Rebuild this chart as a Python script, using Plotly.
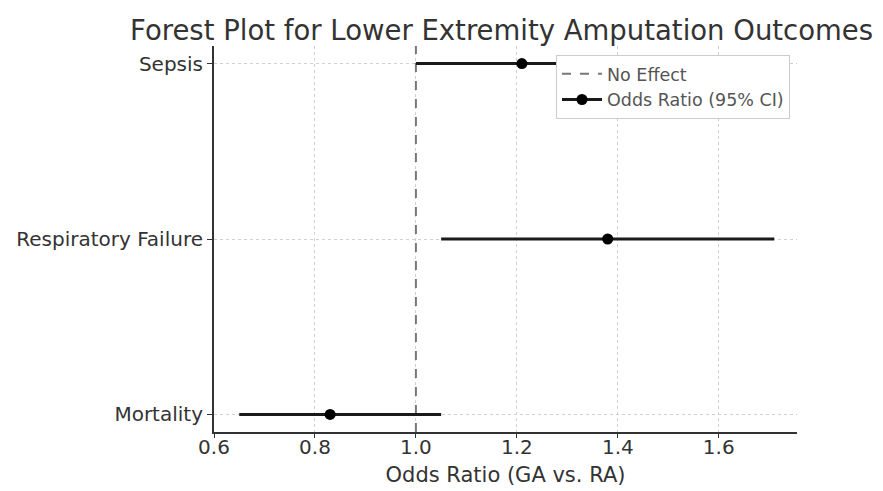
import plotly.graph_objects as go

outcomes = ["Mortality", "Respiratory Failure", "Sepsis"]
odds_ratio = [0.83, 1.38, 1.21]
ci_low = [0.65, 1.05, 1.00]
ci_high = [1.05, 1.71, 1.46]
no_effect = 1.0
x_ticks = [0.6, 0.8, 1.0, 1.2, 1.4, 1.6]

ypos = list(range(len(outcomes)))
y_range = [-0.1, len(outcomes) - 1 + 0.1]

fig = go.Figure()

fig.add_trace(go.Scatter(
    x=[no_effect, no_effect], y=y_range, mode="lines",
    line=dict(color="#777777", width=2, dash="dash"),
    name="No Effect", hoverinfo="skip"))

fig.add_trace(go.Scatter(
    x=odds_ratio, y=ypos, mode="markers",
    marker=dict(color="black", size=11),
    error_x=dict(type="data", symmetric=False,
                 array=[h - o for h, o in zip(ci_high, odds_ratio)],
                 arrayminus=[o - l for o, l in zip(odds_ratio, ci_low)],
                 color="#1a1a1a", thickness=3, width=0),
    name="Odds Ratio (95% CI)", showlegend=False))

fig.add_trace(go.Scatter(
    x=[None], y=[None], mode="lines+markers",
    marker=dict(color="black", size=11),
    line=dict(color="#1a1a1a", width=3),
    name="Odds Ratio (95% CI)"))

fig.update_layout(
    width=883, height=491,
    margin=dict(l=206, r=94, t=38, b=67),
    paper_bgcolor="white", plot_bgcolor="white",
    font=dict(family="DejaVu Sans", color="#333333", size=20),
    title=dict(text="Forest Plot for Lower Extremity Amputation Outcomes",
               x=0.559, xanchor="center", y=0.955, yanchor="middle",
               font=dict(size=27.5, color="#333333")),
    legend=dict(x=0.988, y=0.977, xanchor="right", yanchor="top",
                bgcolor="white", bordercolor="#cccccc", itemwidth=40,
                borderwidth=1, font=dict(size=17.5, color="#555555")),
    showlegend=True,
)

fig.update_xaxes(
    range=[0.6, 1.755], tickvals=x_ticks,
    ticktext=[f"{v:.1f}" for v in x_ticks],
    title=dict(text="Odds Ratio (GA vs. RA)", standoff=9, font=dict(size=21)),
    showline=True, linecolor="#333333", linewidth=2, mirror=False,
    ticks="outside", ticklen=4, tickcolor="#333333", tickwidth=1,
    ticklabelstandoff=-8, automargin=False,
    showgrid=True, gridcolor="#d0d0d0", griddash="dot", gridwidth=1,
    zeroline=False)

fig.update_yaxes(
    range=y_range, tickvals=ypos, ticktext=outcomes,
    showline=True, linecolor="#333333", linewidth=2, mirror=False,
    ticks="outside", ticklen=5, tickcolor="#333333", tickwidth=1,
    automargin=False,
    showgrid=True, gridcolor="#d0d0d0", griddash="dot", gridwidth=1,
    zeroline=False)

fig.write_html("out.html")
